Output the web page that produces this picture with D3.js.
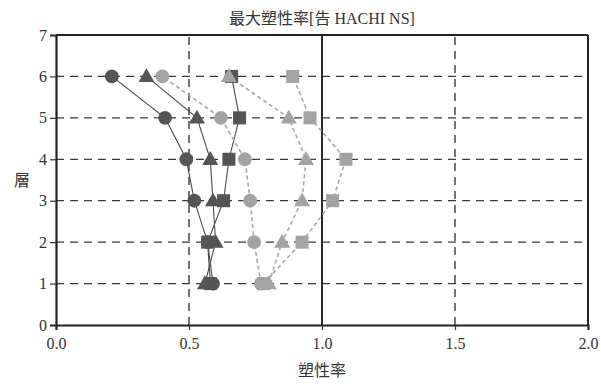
<!DOCTYPE html>
<html>
<head>
<meta charset="utf-8">
<script src="https://cdn.jsdelivr.net/npm/d3@7"></script>
<style>
  html, body { margin: 0; padding: 0; background: #fff; }
  svg { display: block; }
</style>
</head>
<body>
<svg id="chart" width="601" height="384"></svg>
<script>
// Storeys (layer number) and maximum ductility ratio per storey
const floors = [1, 2, 3, 4, 5, 6];

const darkCircle   = [0.59, 0.57, 0.52, 0.49, 0.41, 0.21];
const darkTriangle = [0.56, 0.60, 0.59, 0.58, 0.53, 0.34];
const darkSquare   = [0.58, 0.57, 0.63, 0.65, 0.69, 0.66];
const lightCircle  = [0.77, 0.745, 0.73, 0.71, 0.62, 0.40];
const lightTriangle= [0.80, 0.85, 0.925, 0.94, 0.875, 0.65];
const lightSquare  = [0.78, 0.925, 1.04, 1.09, 0.955, 0.89];

const xTicks = [0, 0.5, 1.0, 1.5, 2.0];
const yTicks = [0, 1, 2, 3, 4, 5, 6, 7];

const titleText = "最大塑性率[告 HACHI NS]";
const xLabel = "塑性率";
const yLabel = "層";

const series = [
  { values: darkCircle,    shape: "circle",   tone: "dark"  },
  { values: darkTriangle,  shape: "triangle", tone: "dark"  },
  { values: darkSquare,    shape: "square",   tone: "dark"  },
  { values: lightCircle,   shape: "circle",   tone: "light" },
  { values: lightTriangle, shape: "triangle", tone: "light" },
  { values: lightSquare,   shape: "square",   tone: "light" }
];

const colors = { dark: "#555555", light: "#a3a3a3" };
const lineColors = { dark: "#4a4a4a", light: "#a8a8a8" };

const svg = d3.select("#chart");
const margin = { left: 56, right: 13, top: 35, bottom: 59 };
const W = 601, H = 384;

const x = d3.scaleLinear().domain([0, 2]).range([margin.left, W - margin.right]);
const y = d3.scaleLinear().domain([0, 7]).range([H - margin.bottom, margin.top]);

const serif = "'Liberation Serif', 'Times New Roman', serif";
const cjk = "'Noto Sans CJK JP', 'Noto Sans CJK SC', sans-serif";

// Horizontal dashed grid at each storey
svg.append("g")
  .selectAll("line")
  .data(yTicks.filter(d => d > 0 && d < 7))
  .join("line")
  .attr("x1", x(0)).attr("x2", x(2))
  .attr("y1", d => y(d)).attr("y2", d => y(d))
  .attr("stroke", "#3a3a3a")
  .attr("stroke-width", 1.3)
  .attr("stroke-dasharray", "8,6");

// Vertical grid: dashed at 0.5 / 1.5, solid at 1.0
svg.append("g")
  .selectAll("line")
  .data([0.5, 1.0, 1.5])
  .join("line")
  .attr("x1", d => x(d)).attr("x2", d => x(d))
  .attr("y1", y(0)).attr("y2", y(7))
  .attr("stroke", "#2a2a2a")
  .attr("stroke-width", d => d === 1 ? 2 : 1.3)
  .attr("stroke-dasharray", d => d === 1 ? null : "8,6");

// Frame: top and right edges
svg.append("line")
  .attr("x1", x(0)).attr("x2", x(2)).attr("y1", y(7)).attr("y2", y(7))
  .attr("stroke", "#222").attr("stroke-width", 2);
svg.append("line")
  .attr("x1", x(2)).attr("x2", x(2)).attr("y1", y(0)).attr("y2", y(7))
  .attr("stroke", "#222").attr("stroke-width", 2);

// Axes
const xAxis = d3.axisBottom(x).tickValues(xTicks).tickFormat(d3.format(".1f")).tickSize(5).tickPadding(5);
const yAxis = d3.axisLeft(y).tickValues(yTicks).tickFormat(d3.format("d")).tickSize(6).tickPadding(3);

const gx = svg.append("g").attr("transform", `translate(0,${y(0)})`).call(xAxis);
const gy = svg.append("g").attr("transform", `translate(${x(0)},0)`).call(yAxis);

[gx, gy].forEach(g => {
  g.select(".domain").attr("stroke", "#222").attr("stroke-width", 2.2);
  g.selectAll(".tick line").attr("stroke", "#333").attr("stroke-width", 1.2);
  g.selectAll(".tick text")
    .attr("fill", "#333")
    .style("font-family", serif)
    .style("font-size", "16px");
});
gx.selectAll(".tick text").attr("dy", "0.9em");

// Series lines
const line = d3.line()
  .x(d => x(d.v))
  .y(d => y(d.f));

series.forEach(s => {
  const pts = floors.map((f, i) => ({ f, v: s.values[i] }));
  svg.append("path")
    .datum(pts)
    .attr("d", line)
    .attr("fill", "none")
    .attr("stroke", lineColors[s.tone])
    .attr("stroke-width", s.tone === "dark" ? 1.1 : 1.6)
    .attr("stroke-dasharray", s.tone === "dark" ? null : "4,3");
});

// Markers
const symbolFor = {
  circle: d3.symbol().type(d3.symbolCircle).size(150),
  triangle: d3.symbol().type(d3.symbolTriangle).size(110),
  square: d3.symbol().type(d3.symbolSquare).size(170)
};

series.forEach(s => {
  const pts = floors.map((f, i) => ({ f, v: s.values[i] }));
  svg.append("g")
    .selectAll("path")
    .data(pts)
    .join("path")
    .attr("d", symbolFor[s.shape]())
    .attr("transform", d => `translate(${x(d.v)},${y(d.f) + (s.shape === "triangle" ? 1 : 0)})`)
    .attr("fill", colors[s.tone]);
});

// Title and axis labels
svg.append("text")
  .attr("x", 322).attr("y", 24)
  .attr("text-anchor", "middle")
  .attr("fill", "#333")
  .style("font-family", `${serif}, ${cjk}`)
  .style("font-size", "16px")
  .text(titleText);

svg.append("text")
  .attr("x", 322).attr("y", 376)
  .attr("text-anchor", "middle")
  .attr("fill", "#333")
  .style("font-family", cjk)
  .style("font-size", "16px")
  .text(xLabel);

svg.append("text")
  .attr("x", 22).attr("y", 186)
  .attr("text-anchor", "middle")
  .attr("fill", "#333")
  .style("font-family", cjk)
  .style("font-size", "16px")
  .text(yLabel);
</script>
</body>
</html>
